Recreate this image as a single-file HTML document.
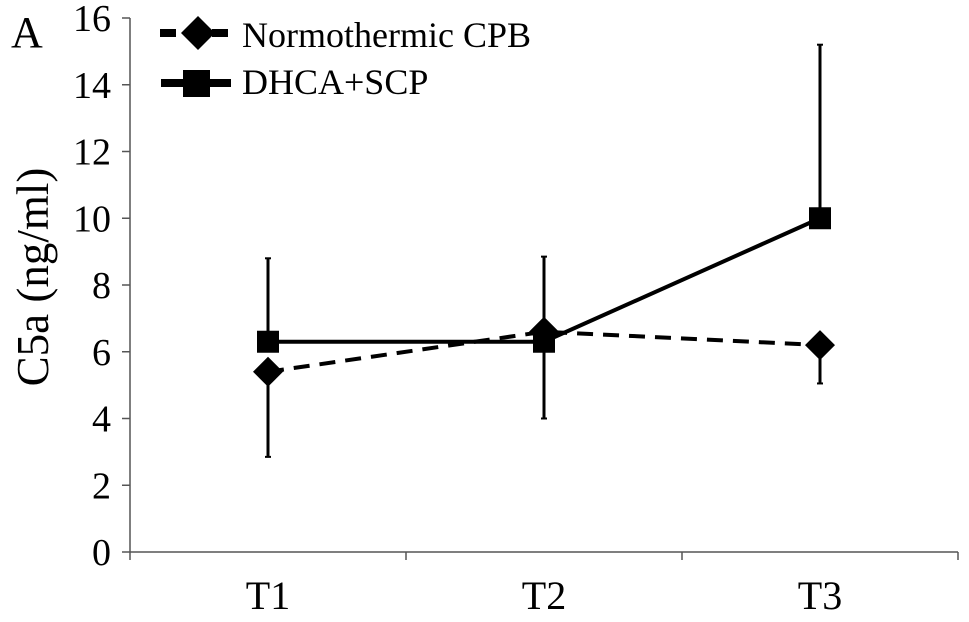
<!DOCTYPE html>
<html><head><meta charset="utf-8"><style>
html,body{margin:0;padding:0;background:#fff;}
svg{display:block;font-family:"Liberation Serif",serif;}
</style></head><body>
<svg id="chart" width="969" height="622" viewBox="0 0 969 622" xmlns="http://www.w3.org/2000/svg">
<text x="11" y="47" font-size="44">A</text>
<text transform="translate(48,277) rotate(-90)" text-anchor="middle" font-size="45">C5a (ng/ml)</text>
<g id="axes"></g>
<g id="marks"></g>
<g>
<g>
<line x1="160" y1="33" x2="232" y2="33" stroke="#000" stroke-width="8" stroke-dasharray="16,10"/>
<polygon points="198,16 215,33 198,50 181,33" fill="#000"/>
<text x="242" y="47" font-size="36">Normothermic CPB</text>
</g>
<g>
<line x1="161" y1="83" x2="231" y2="83" stroke="#000" stroke-width="8"/>
<rect x="183" y="70" width="27" height="27" fill="#000"/>
<text x="242" y="94" font-size="36">DHCA+SCP</text>
</g>
</g>
</svg>
<script>
const categories = ["T1","T2","T3"];
const normoValues = [5.4, 6.6, 6.2];
const normoErrLow = [2.55, 0, 1.15];
const normoErrHigh = [0, 2.25, 0];
const dhcaValues = [6.3, 6.3, 10.0];
const dhcaErrLow = [0, 2.3, 0];
const dhcaErrHigh = [2.5, 0, 5.2];
const yTicks = [0,2,4,6,8,10,12,14,16];

const NS="http://www.w3.org/2000/svg";
const x0=130, x1=958, y0=552, yTop=18, yMax=16;
const band=(x1-x0)/categories.length;
const yS=v=>y0-(v/yMax)*(y0-yTop);
const xS=i=>x0+band*(i+0.5);
function mk(tag,attrs,parent){const e=document.createElementNS(NS,tag);for(const k in attrs)e.setAttribute(k,attrs[k]);parent.appendChild(e);return e;}
const axes=document.getElementById('axes'), marks=document.getElementById('marks');
let e=mk('line',{x1:x0,y1:yTop,x2:x0,y2:y0,stroke:'#555','stroke-width':1.5},axes);


e=mk('line',{x1:x0,y1:y0,x2:x1,y2:y0,stroke:'#555','stroke-width':1.5},axes);


yTicks.forEach(t=>{
  mk('line',{x1:x0-8,y1:yS(t),x2:x0,y2:yS(t),stroke:'#555','stroke-width':1.5},axes);
  const tx=mk('text',{x:x0-19,y:yS(t)+13,'text-anchor':'end','font-size':38},axes);
  tx.textContent=t;
  
  
});
for(let i=0;i<=categories.length;i++){
  mk('line',{x1:x0+band*i,y1:y0,x2:x0+band*i,y2:y0+8,stroke:'#555','stroke-width':1.5},axes);
}
categories.forEach((c,i)=>{
  const tx=mk('text',{x:xS(i),y:y0+57,'text-anchor':'middle','font-size':40},axes);
  tx.textContent=c;
  
  
});
function errBars(vals,lo,hi,name){
  vals.forEach((v,i)=>{
    if(lo[i]>0||hi[i]>0){
      const l=mk('line',{x1:xS(i),y1:yS(v-lo[i]),x2:xS(i),y2:yS(v+hi[i]),stroke:'#000','stroke-width':3},marks);
      
      
      const yE=lo[i]>0?yS(v-lo[i]):yS(v+hi[i]);
      mk('line',{x1:xS(i)-3,y1:yE,x2:xS(i)+3,y2:yE,stroke:'#000','stroke-width':2},marks);
    }
  });
}
errBars(normoValues,normoErrLow,normoErrHigh,'normothermic');
errBars(dhcaValues,dhcaErrLow,dhcaErrHigh,'dhca');
let p=mk('polyline',{points:normoValues.map((v,i)=>xS(i)+','+yS(v)).join(' '),fill:'none',stroke:'#000','stroke-width':4,'stroke-dasharray':'16,10'},marks);


p=mk('polyline',{points:dhcaValues.map((v,i)=>xS(i)+','+yS(v)).join(' '),fill:'none',stroke:'#000','stroke-width':4},marks);


normoValues.forEach((v,i)=>{
  const x=xS(i),y=yS(v);
  const d=mk('polygon',{points:`${x},${y-15} ${x+15},${y} ${x},${y+15} ${x-15},${y}`,fill:'#000'},marks);
  
  
});
dhcaValues.forEach((v,i)=>{
  const r=mk('rect',{x:xS(i)-11,y:yS(v)-11,width:22,height:22,fill:'#000'},marks);
  
  
});
</script>
</body></html>
